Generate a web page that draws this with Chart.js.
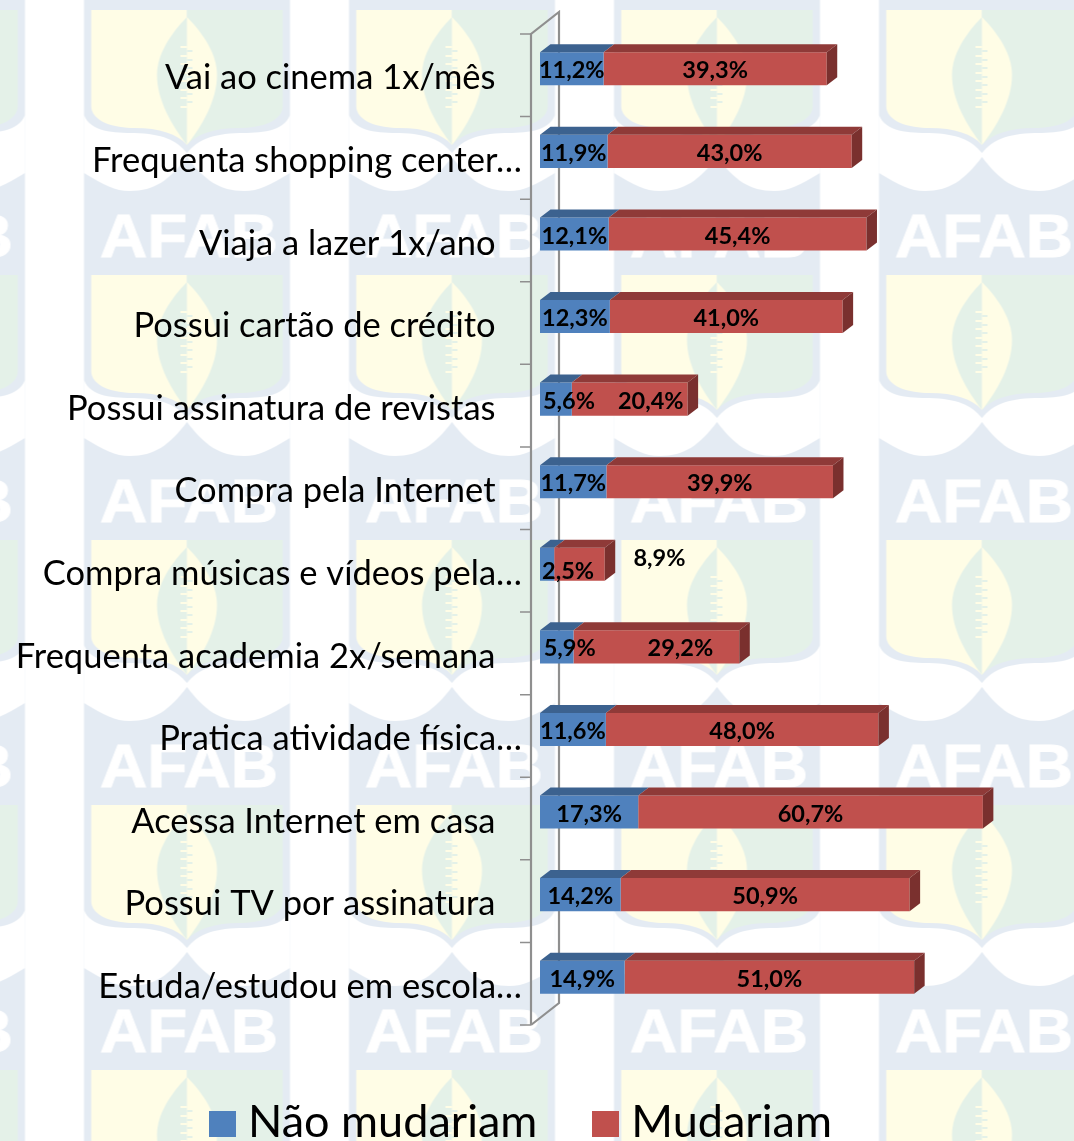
<!DOCTYPE html>
<html lang="pt">
<head>
<meta charset="utf-8">
<title>Mudariam / Não mudariam</title>
<script src="https://cdn.jsdelivr.net/npm/chart.js@4"></script>
<style>
  html, body { margin: 0; padding: 0; background: #fff; overflow: hidden; }
  #page { position: relative; width: 1074px; height: 1141px; overflow: hidden; }
  #bg, #chart { position: absolute; left: 0; top: 0; }
  #legend { position: absolute; left: 209px; top: 1093px; display: flex; align-items: center;
            font: 45px Lato, sans-serif; color: #000; white-space: nowrap; }
  #legend .item { display: flex; align-items: center; margin-right: 55px; }
  #legend .box { width: 27px; height: 26px; margin-right: 12px; margin-top: 8px; }
</style>
</head>
<body>
<div id="page">
  <!-- logo watermark behind the chart -->
  <svg id="bg" width="1074" height="1141" xmlns="http://www.w3.org/2000/svg">
    <defs>
      <clipPath id="inner">
        <path d="M36.5 0H228.5V95C228.5 112 205 118 185 118C160 118 142 124 132.5 135C123 124 105 118 80 118C60 118 36.5 112 36.5 95Z"/>
      </clipPath>
      <clipPath id="lens">
        <path d="M132.5 7C150 25 162.5 45 162.5 65C162.5 90 148 115 132.5 135C117 115 102.5 90 102.5 65C102.5 45 115 25 132.5 7Z"/>
      </clipPath>
      <pattern id="tile" width="265" height="265" patternUnits="userSpaceOnUse" patternTransform="translate(849.5 10)">
        <rect x="29.5" y="0" width="206" height="265" fill="#e4ebf3"/>
        <path fill="#fff" d="M29.5 105C36 122 60 123 80 123C108 124 122 130 132.5 143C143 130 157 124 185 123C205 123 229 122 235.5 105V163C215 175 205 181 189.5 181C165 181 150 170 132.5 147C115 170 100 181 75.5 181C60 181 50 175 29.5 163Z"/>
        <g clip-path="url(#inner)">
          <rect x="36.5" y="0" width="96" height="140" fill="#fffde6"/>
          <rect x="132.5" y="0" width="96" height="140" fill="#e4f1e8"/>
          <g clip-path="url(#lens)">
            <rect x="102" y="0" width="30.5" height="140" fill="#e4f1e8"/>
            <rect x="132.5" y="0" width="31" height="140" fill="#fffde6"/>
          </g>
        </g>
        <g stroke-width="2">
          <path stroke="#fffde6" d="M126 37H132.5M126 46H132.5M126 54H132.5M126 63H132.5M126 71H132.5M126 80H132.5M126 88H132.5M126 97H132.5"/>
          <path stroke="#e4f1e8" d="M132.5 41H138M132.5 50H138M132.5 58H138M132.5 67H138M132.5 75H138M132.5 84H138M132.5 92H138"/>
        </g>
        <text x="134.5" y="247" text-anchor="middle" textLength="178" lengthAdjust="spacingAndGlyphs" font-family="Liberation Sans" font-weight="700" font-size="62" fill="#fff" stroke="#fff" stroke-width="1">AFAB</text>
      </pattern>
    </defs>
    <rect width="1074" height="1141" fill="url(#tile)"/>
  </svg>
  <canvas id="chart" width="1074" height="1141"></canvas>
  <div id="legend"></div>
</div>

<script>
// 1) Data
const categories = [
  'Vai ao cinema 1x/mês',
  'Frequenta shopping center…',
  'Viaja a lazer 1x/ano',
  'Possui cartão de crédito',
  'Possui assinatura de revistas',
  'Compra pela Internet',
  'Compra músicas e vídeos pela…',
  'Frequenta academia 2x/semana',
  'Pratica atividade física…',
  'Acessa Internet em casa',
  'Possui TV por assinatura',
  'Estuda/estudou em escola…'
];
const naoMudariam = [11.2, 11.9, 12.1, 12.3, 5.6, 11.7, 2.5, 5.9, 11.6, 17.3, 14.2, 14.9];
const mudariam    = [39.3, 43.0, 45.4, 41.0, 20.4, 39.9, 8.9, 29.2, 48.0, 60.7, 50.9, 51.0];

// hand-moved data labels in the original, keyed "dataset:index", [dx, dy] in px
const labelNudge = {
  '0:4': [13, 0], '0:6': [21, 5], '0:7': [13, 0],
  '1:4': [21, 0], '1:6': [80, -8], '1:7': [24, 0]
};

const BLUE = '#4f81bd', RED = '#c0504d';
const BLUE_TOP = '#3c628f', RED_TOP = '#8f3a38', RED_SIDE = '#7a302e';
const DEPTH_X = 10.5, DEPTH_Y = 8;   // 3D depth of the bars
const AXIS_COLOR = '#8f8f8f';

// 2) Back wall and front axis line with tick marks, drawn under the bars
const axisFrame = {
  id: 'axisFrame',
  beforeDatasetsDraw(chart) {
    const { ctx } = chart;
    const y = chart.scales.y;
    const top = y.top + 6.5, bottom = y.bottom + 6.5;
    const front = y.right - 9, back = y.right + 19, rise = 22;
    ctx.save();
    ctx.strokeStyle = AXIS_COLOR;
    ctx.lineWidth = 2.2;
    ctx.beginPath();
    ctx.moveTo(front, bottom);
    ctx.lineTo(front, top);
    ctx.lineTo(back, top - rise);
    ctx.lineTo(back, bottom - rise);
    ctx.lineTo(front, bottom);
    ctx.stroke();
    // ticks on the band edges
    ctx.lineWidth = 1.5;
    ctx.beginPath();
    for (let i = 0; i <= categories.length; i++) {
      const t = top + (bottom - top) * i / categories.length;
      ctx.moveTo(front - 11, t);
      ctx.lineTo(front, t);
    }
    ctx.stroke();
    ctx.restore();
  }
};

// 3) Top and side faces of the bars plus the value labels
const bars3d = {
  id: 'bars3d',
  afterDatasetsDraw(chart) {
    const { ctx } = chart;
    ctx.save();
    chart.data.datasets.forEach((ds, d) => {
      chart.getDatasetMeta(d).data.forEach(bar => {
        const left = bar.base, right = bar.x;
        const top = bar.y - bar.height / 2, bottom = bar.y + bar.height / 2;
        ctx.fillStyle = d === 0 ? BLUE_TOP : RED_TOP;
        ctx.beginPath();
        ctx.moveTo(left, top);
        ctx.lineTo(left + DEPTH_X, top - DEPTH_Y);
        ctx.lineTo(right + DEPTH_X, top - DEPTH_Y);
        ctx.lineTo(right, top);
        ctx.closePath();
        ctx.fill();
        if (d === 1) {
          ctx.fillStyle = RED_SIDE;
          ctx.beginPath();
          ctx.moveTo(right, top);
          ctx.lineTo(right + DEPTH_X, top - DEPTH_Y);
          ctx.lineTo(right + DEPTH_X, bottom - DEPTH_Y);
          ctx.lineTo(right, bottom);
          ctx.closePath();
          ctx.fill();
        }
      });
    });
    ctx.font = '700 23.5px Lato, sans-serif';
    ctx.fillStyle = '#000';
    ctx.textAlign = 'center';
    ctx.textBaseline = 'middle';
    chart.data.datasets.forEach((ds, d) => {
      chart.getDatasetMeta(d).data.forEach((bar, i) => {
        const nudge = labelNudge[d + ':' + i] || [0, 0];
        const text = ds.data[i].toFixed(1).replace('.', ',') + '%';
        ctx.fillText(text, (bar.base + bar.x) / 2 + nudge[0], bar.y + 2 + nudge[1]);
      });
    });
    ctx.restore();
  }
};

// 4) Chart
const chart = new Chart(document.getElementById('chart'), {
  type: 'bar',
  data: {
    labels: categories,
    datasets: [
      { label: 'Não mudariam', data: naoMudariam, backgroundColor: BLUE },
      { label: 'Mudariam', data: mudariam, backgroundColor: RED }
    ]
  },
  options: {
    indexAxis: 'y',
    responsive: false,
    animation: false,
    categoryPercentage: 1,
    barPercentage: 0.4,
    layout: { padding: { top: 27.5, right: 23, left: 0, bottom: 0 } },
    plugins: { legend: { display: false }, tooltip: { enabled: false } },
    scales: {
      x: {
        stacked: true, min: 0, max: 90,
        grid: { display: false }, border: { display: false },
        ticks: { display: false },
        afterFit(s) { s.height = 122.5; }
      },
      y: {
        stacked: true,
        grid: { display: false }, border: { display: false },
        afterFit(s) { s.width = 540; s.paddingTop = 0; s.paddingBottom = 0; },
        ticks: {
          autoSkip: false,
          color: '#000',
          padding: 10,
          labelOffset: 9.5,
          font: { family: 'Lato, sans-serif', size: 34.5 },
          // labels that were not cut off stand a little further from the axis
          callback(value) {
            const text = this.getLabelForValue(value);
            return text.endsWith('…') ? text : text + '\u00a0\u00a0\u00a0';
          }
        }
      }
    }
  },
  plugins: [axisFrame, bars3d]
});

// 5) Legend
document.getElementById('legend').innerHTML = chart.data.datasets.map(ds =>
  `<div class="item"><span class="box" style="background:${ds.backgroundColor}"></span>${ds.label}</div>`
).join('');
</script>
</body>
</html>
